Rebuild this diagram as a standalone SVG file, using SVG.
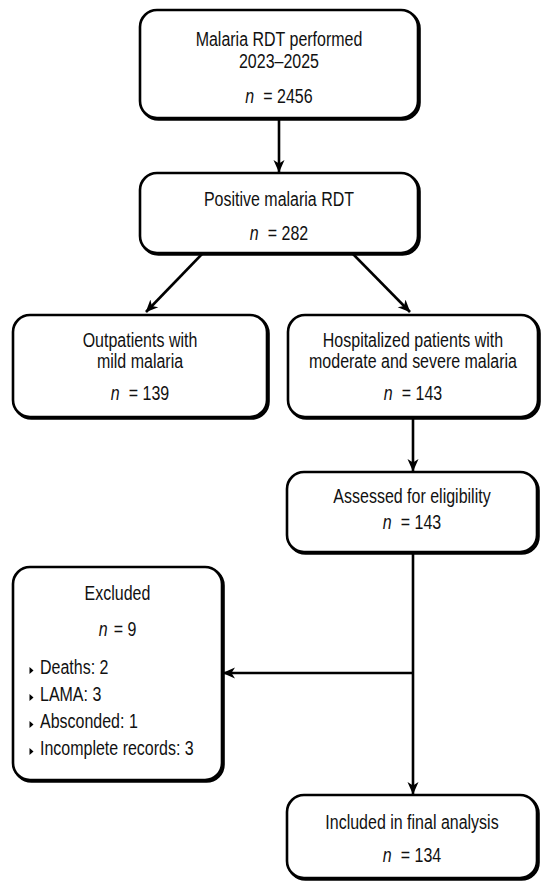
<svg xmlns="http://www.w3.org/2000/svg" width="550" height="887" viewBox="0 0 550 887">
<defs>
<style>
.box{fill:#fff;stroke:#000;stroke-width:2.6}
.sh{fill:none;stroke:#000;stroke-width:2.6}
.t{font-family:"Liberation Sans",Arial,sans-serif;font-size:19.5px;fill:#111}
.c{text-anchor:middle}
.i{font-style:italic}
.ln{fill:none;stroke:#000;stroke-width:2.6}
.bul{fill:#000}
</style>
<marker id="ah" markerWidth="14" markerHeight="12" refX="12" refY="6" orient="auto" markerUnits="userSpaceOnUse">
<path d="M0,0.5 L12.5,6 L0,11.5 L3.5,6 Z" fill="#000"/>
</marker>
</defs>
<rect width="550" height="887" fill="#fff"/>

<g id="connectors">
<line class="ln" x1="279" y1="118" x2="279" y2="172" marker-end="url(#ah)"/>
<line class="ln" x1="202" y1="254" x2="146" y2="312" marker-end="url(#ah)"/>
<line class="ln" x1="353" y1="254" x2="410" y2="312" marker-end="url(#ah)"/>
<line class="ln" x1="413" y1="417" x2="413" y2="471" marker-end="url(#ah)"/>
<line class="ln" x1="413" y1="552" x2="413" y2="794" marker-end="url(#ah)"/>
<line class="ln" x1="414" y1="673" x2="223" y2="673" marker-end="url(#ah)"/>
</g>

<g id="n1">
<rect class="sh" x="141.5" y="11.5" width="278" height="108" rx="17"/>
<rect class="box" x="140" y="10" width="278" height="108" rx="17"/>
<g transform="translate(279 0) scale(0.82 1)">
<text class="t c" x="0" y="46">Malaria RDT performed</text>
<text class="t c" x="0" y="68">2023–2025</text>
<text class="t c" x="0" y="103"><tspan class="i">n</tspan><tspan dx="11">= 2456</tspan></text>
</g>
</g>

<g id="n2">
<rect class="sh" x="141.5" y="174.5" width="278" height="80" rx="17"/>
<rect class="box" x="140" y="173" width="278" height="80" rx="17"/>
<g transform="translate(279 0) scale(0.82 1)">
<text class="t c" x="0" y="206">Positive malaria RDT</text>
<text class="t c" x="0" y="240"><tspan class="i">n</tspan><tspan dx="11">= 282</tspan></text>
</g>
</g>

<g id="n3">
<rect class="sh" x="14.5" y="316.5" width="254" height="102" rx="17"/>
<rect class="box" x="13" y="315" width="254" height="102" rx="17"/>
<g transform="translate(140 0) scale(0.82 1)">
<text class="t c" x="0" y="347">Outpatients with</text>
<text class="t c" x="0" y="368">mild malaria</text>
<text class="t c" x="0" y="400"><tspan class="i">n</tspan><tspan dx="11">= 139</tspan></text>
</g>
</g>

<g id="n4">
<rect class="sh" x="289.5" y="316.5" width="250" height="102" rx="17"/>
<rect class="box" x="288" y="315" width="250" height="102" rx="17"/>
<g transform="translate(413 0) scale(0.82 1)">
<text class="t c" x="0" y="347">Hospitalized patients with</text>
<text class="t c" x="0" y="368">moderate and severe malaria</text>
<text class="t c" x="0" y="400"><tspan class="i">n</tspan><tspan dx="11">= 143</tspan></text>
</g>
</g>

<g id="n5">
<rect class="sh" x="288.5" y="473.5" width="250" height="80" rx="17"/>
<rect class="box" x="287" y="472" width="250" height="80" rx="17"/>
<g transform="translate(412 0) scale(0.82 1)">
<text class="t c" x="0" y="503">Assessed for eligibility</text>
<text class="t c" x="0" y="529"><tspan class="i">n</tspan><tspan dx="11">= 143</tspan></text>
</g>
</g>

<g id="n6">
<rect class="sh" x="14.5" y="568.5" width="209" height="213" rx="17"/>
<rect class="box" x="13" y="567" width="209" height="213" rx="17"/>
<g transform="translate(117.5 0) scale(0.82 1)">
<text class="t c" x="0" y="600">Excluded</text>
<text class="t c" x="0" y="636"><tspan class="i">n</tspan><tspan dx="2"> = 9</tspan></text>
</g>
<path class="bul" d="M29.5,667 L33.5,670.5 L29.5,674 Z"/>
<path class="bul" d="M29.5,694 L33.5,697.5 L29.5,701 Z"/>
<path class="bul" d="M29.5,721 L33.5,724.5 L29.5,728 Z"/>
<path class="bul" d="M29.5,748 L33.5,751.5 L29.5,755 Z"/>
<g transform="translate(40 0) scale(0.82 1)">
<text class="t" x="0" y="674">Deaths: 2</text>
<text class="t" x="0" y="701">LAMA: 3</text>
<text class="t" x="0" y="728">Absconded: 1</text>
<text class="t" x="0" y="755">Incomplete records: 3</text>
</g>
</g>

<g id="n7">
<rect class="sh" x="288.5" y="796.5" width="250" height="83" rx="17"/>
<rect class="box" x="287" y="795" width="250" height="83" rx="17"/>
<g transform="translate(412 0) scale(0.82 1)">
<text class="t c" x="0" y="829">Included in final analysis</text>
<text class="t c" x="0" y="862"><tspan class="i">n</tspan><tspan dx="11">= 134</tspan></text>
</g>
</g>
</svg>
